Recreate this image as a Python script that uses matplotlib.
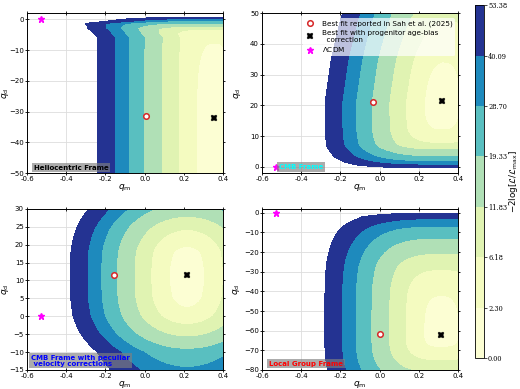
import numpy as np
import matplotlib
matplotlib.use("Agg")
import matplotlib.pyplot as plt

# delta chi2 levels of the filled contours
levels = [0.0, 2.30, 6.18, 11.83, 19.33, 28.70, 40.09, 53.38]
# distance (q_m units) from the best fit where each level is reached
d_knots = [0.0, 0.09, 0.185, 0.27, 0.36, 0.44, 0.51, 0.595, 1.5]
chi_knots = [0.0, 2.30, 6.18, 11.83, 19.33, 28.70, 40.09, 53.38, 300.0]

frame_names = ["Heliocentric Frame", "CMB Frame",
               "CMB Frame with peculiar\n velocity corrections", "Local Group Frame"]
frame_colors = ["black", "cyan", "blue", "red"]

ylims = [(-50, 2), (-2, 50), (-15, 30), (-80, 2)]
yticks = [[-50, -40, -30, -20, -10, 0],
          [0, 10, 20, 30, 40, 50],
          [-15, -10, -5, 0, 5, 10, 15, 20, 25, 30],
          [-80, -70, -60, -50, -40, -30, -20, -10, 0]]
xticks = [-0.6, -0.4, -0.2, 0.0, 0.2, 0.4]

# best fit reported in Sah et al. (2025)
sah_qm = [0.005, -0.032, -0.158, 0.0]
sah_qd = [-31.5, 21.1, 11.4, -61.6]
# best fit with progenitor age-bias correction
corr_qm = [0.355, 0.317, 0.216, 0.315]
corr_qd = [-32.0, 21.3, 11.4, -62.1]
# LCDM
lcdm_qm = -0.53
lcdm_qd = 0.0

# vertical profile of each surface: q_d -> distance from best fit
prof_qd = [[-50, -32, -5, -3, -2, -1, 0, 0.5, 1, 2],
           [-2, -0.3, 0.6, 1.7, 3.3, 4.9, 7, 12, 21.2, 50],
           [-15, -10, -5, 0, 5, 11.4, 18, 25, 30],
           [-80, -62, -40, -27, -18, -12, -8, -5.6, -3, -2.2, -0.8, -0.2, 2]]
prof_d = [[0.03, 0.0, 0.1, 0.2, 0.3, 0.38, 0.47, 0.56, 0.65, 0.8],
          [0.75, 0.595, 0.51, 0.44, 0.36, 0.30, 0.2, 0.09, 0.0, 0.2],
          [0.45, 0.38, 0.25, 0.13, 0.05, 0.0, 0.06, 0.2, 0.32],
          [0.25, 0.0, 0.1, 0.2, 0.3, 0.37, 0.42, 0.46, 0.51, 0.52, 0.57, 0.594, 0.75]]
# how far the left edges of the contours move left (+) or right (-) with q_d
shift_qd = [[-6, -4, -2, -1.3, -0.6, 0],
            [21.2, 35, 50],
            [-15, 30],
            [-80, 2]]
shift_dm = [[0.0, 0.03, 0.08, 0.11, 0.03, 0.0],
            [0.0, -0.03, -0.08],
            [0.0, 0.0],
            [0.0, 0.0]]
# squareness of the contours
powers = [3, 3, 2, 3]

# axes positions in figure fraction (left, bottom, width, height)
positions = [[0.052, 0.555, 0.377, 0.411],
             [0.504, 0.555, 0.377, 0.411],
             [0.052, 0.049, 0.377, 0.414],
             [0.504, 0.049, 0.377, 0.414]]
ylabel_x = [-0.082, -0.095, -0.082, -0.1]
text_pos = [(0.035, 0.015), (0.085, 0.02), (0.02, 0.02), (0.035, 0.02)]


# builds the -2 log L / L_max surface for one panel
def surface(i, qm, qd):
    shift = np.interp(qd, shift_qd[i], shift_dm[i])
    dx = np.abs(qm - corr_qm[i])
    dx = np.where(qm < corr_qm[i], np.clip(dx - shift, 0, None), dx)
    dy = np.interp(qd, prof_qd[i], prof_d[i])
    p = powers[i]
    d = (dx ** p + dy ** p) ** (1.0 / p)
    return np.interp(d, d_knots, chi_knots)


def draw_panel(fig, i):
    ax = fig.add_axes(positions[i])
    qm = np.linspace(-0.6, 0.4, 500)
    qd = np.linspace(ylims[i][0], ylims[i][1], 500)
    QM, QD = np.meshgrid(qm, qd)
    cs = ax.contourf(QM, QD, surface(i, QM, QD), levels=levels, cmap="YlGnBu", zorder=1)
    ax.grid(True, color="#dddddd", lw=0.6, zorder=0)
    ax.set_axisbelow(True)

    l1, = ax.plot(sah_qm[i], sah_qd[i], "o", mfc="white", mec="#d62728", ms=4, mew=1.1,
                  zorder=5, label="Best fit reported in Sah et al. (2025)")
    l2, = ax.plot(corr_qm[i], corr_qd[i], "X", color="black", ms=5, mew=0.3, zorder=5,
                  label="Best fit with progenitor age-bias\n  correction")
    l3, = ax.plot(lcdm_qm, lcdm_qd, "*", color="magenta", ms=5, zorder=5, clip_on=False,
                  label=r"$\Lambda$CDM")

    ax.set_xlim(-0.6, 0.4)
    ax.set_ylim(*ylims[i])
    ax.set_xticks(xticks)
    ax.set_yticks(yticks[i])
    ax.set_xticklabels(["%.1f" % t if t != 0 else "0.0" for t in xticks])
    ax.tick_params(labelsize=5, direction="inout", length=2.6, width=0.6,
                   top=True, right=True, pad=1)
    for s in ax.spines.values():
        s.set_linewidth(0.7)
    ax.set_xlabel(r"$q_{\rm m}$", fontsize=6.5, labelpad=0)
    ax.set_ylabel(r"$q_{\rm d}$", fontsize=6.5)
    ax.yaxis.set_label_coords(ylabel_x[i], 0.5)

    ax.text(text_pos[i][0], text_pos[i][1], frame_names[i], transform=ax.transAxes,
            fontsize=5, fontweight="bold", color=frame_colors[i], ha="left", va="bottom",
            zorder=6, linespacing=1.0,
            bbox=dict(facecolor="gray", alpha=0.65, edgecolor="none", pad=1.2))

    if i == 1:
        ax.legend(handles=[l1, l2, l3], loc="upper right", fontsize=5.2,
                  framealpha=0.7, edgecolor="none", borderpad=0.3, handletextpad=0.8,
                  labelspacing=0.35, handlelength=1.5, bbox_to_anchor=(1.0, 0.99))
    return cs


def main():
    fig = plt.figure(figsize=(5.2, 3.89), dpi=100)
    cs = None
    for i in range(4):
        cs = draw_panel(fig, i)
    cax = fig.add_axes([0.913, 0.080, 0.0175, 0.906])
    cb = fig.colorbar(cs, cax=cax, ticks=levels)
    cb.ax.set_yticklabels(["%.2f" % l for l in levels], fontsize=4.8, family="DejaVu Serif")
    cb.ax.tick_params(length=2, width=0.5, pad=1)
    cb.outline.set_linewidth(0.6)
    cb.set_label(r"$-2\log[\mathcal{L}/\mathcal{L}_{\rm max}]$", fontsize=6.3, labelpad=0)
    fig.savefig("out.png", dpi=100)


if __name__ == "__main__":
    main()
